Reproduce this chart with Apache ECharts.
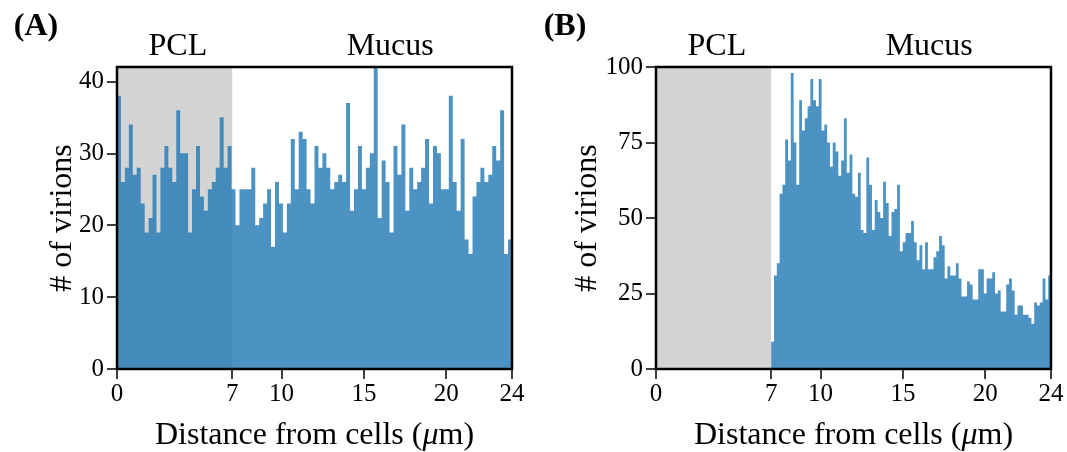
<!DOCTYPE html>
<html>
<head>
<meta charset="utf-8">
<script src="https://cdn.jsdelivr.net/npm/echarts@6/dist/echarts.min.js"></script>
<style>
html,body{margin:0;padding:0;background:#fff;}
#chart{width:1067px;height:452px;}
</style>
</head>
<body>
<div id="chart"></div>
<script>
// ---- Data ----
const xTicks = [0, 7, 10, 15, 20, 24];
const yTicksA = [0, 10, 20, 30, 40];
const yTicksB = [0, 25, 50, 75, 100];
const pclRange = [0, 7];
const binStartA = 0, binWidthA = 0.24;
const binStartB = 7, binWidthB = 0.17;
const countsA = [
  38,26,28,34,27,28,23,19,21,27,19,28,31,28,26,36,30,30,19,25,
  31,24,22,25,26,28,35,28,31,25,20,25,25,25,28,20,21,23,25,17,
  26,23,19,23,32,25,33,32,25,23,31,28,30,28,25,26,27,26,37,22,
  25,31,25,28,30,42,21,29,26,19,31,27,34,22,28,25,26,28,32,23,
  31,30,25,25,38,26,22,32,18,16,24,26,28,26,27,31,29,36,16,18
];
const countsB = [
  9,31,35,58,61,76,69,98,75,61,89,79,83,87,96,89,87,96,79,81,
  75,67,75,72,64,69,83,65,71,58,57,65,46,45,70,61,46,56,52,50,
  62,55,44,52,53,61,39,42,45,45,49,42,36,41,33,42,33,33,37,39,
  44,41,30,34,31,31,35,30,24,24,29,28,23,23,33,33,25,30,30,32,
  25,26,19,19,28,30,26,18,21,21,18,18,17,15,22,21,22,30,23,31
];
const panelLabels = ['(A)', '(B)'];
const regionLabels = ['PCL', 'Mucus'];
const yName = '# of virions';

// ---- Build ----
function stepPoints(start, width, counts) {
  const pts = counts.map((c, i) => [+(start + i * width).toFixed(4), c]);
  pts.push([+(start + counts.length * width).toFixed(4), counts[counts.length - 1]]);
  return pts;
}

const FONT = 'Liberation Serif';
const barFill = 'rgba(31,119,180,0.8)';
const grids = [
  {left: 117, top: 67, width: 395, height: 302},
  {left: 656, top: 67, width: 395, height: 302}
];

function xAxis(idx) {
  return {
    type: 'value', gridIndex: idx, min: 0, max: 24,
    splitLine: {show: false},
    axisLine: {show: true, lineStyle: {color: '#000', width: 2}},
    axisTick: {show: true, inside: false, length: 10, lineStyle: {color: '#000', width: 1.5}, customValues: xTicks},
    axisLabel: {color: '#000', fontFamily: FONT, fontSize: 25, margin: 13, customValues: xTicks},
    name: '{t|Distance from cells (}{i|\u03bc}{t|m)}',
    nameLocation: 'middle', nameGap: 51, nameMoveOverlap: false,
    nameTextStyle: {rich: {
      t: {fontFamily: FONT, fontSize: 32, color: '#000'},
      i: {fontFamily: FONT, fontSize: 32, fontStyle: 'italic', color: '#000'}
    }},
    z: 10
  };
}
function yAxis(idx, max, ticks, gap) {
  return {
    type: 'value', gridIndex: idx, min: 0, max: max,
    splitLine: {show: false},
    axisLine: {show: true, lineStyle: {color: '#000', width: 2}},
    axisTick: {show: true, inside: false, length: 10, lineStyle: {color: '#000', width: 1.5}, customValues: ticks},
    axisLabel: {color: '#000', fontFamily: FONT, fontSize: 25, margin: 13, customValues: ticks},
    name: yName, nameLocation: 'middle', nameGap: gap, nameMoveOverlap: false,
    nameTextStyle: {fontFamily: FONT, fontSize: 32, color: '#000'},
    z: 10
  };
}

function pclSeries(idx) {
  return {
    type: 'line', xAxisIndex: idx, yAxisIndex: idx, z: 1, silent: true,
    data: [[pclRange[0], 0], [pclRange[1], 0]],
    symbol: 'none', lineStyle: {opacity: 0},
    markArea: {silent: true, itemStyle: {color: '#d4d4d4', opacity: 1},
      data: [[{xAxis: pclRange[0]}, {xAxis: pclRange[1]}]]}
  };
}
function histSeries(idx, start, width, counts) {
  return {
    type: 'line', xAxisIndex: idx, yAxisIndex: idx, z: 3, silent: true,
    step: 'end', symbol: 'none',
    data: stepPoints(start, width, counts),
    lineStyle: {width: 0, opacity: 0},
    areaStyle: {color: barFill, opacity: 1, origin: 'start'},
    animation: false
  };
}

const option = {
  animation: false,
  backgroundColor: '#fff',
  grid: grids.map(g => Object.assign({show: true, borderColor: '#000', borderWidth: 2.5,
    backgroundColor: 'transparent', z: 5, containLabel: false, outerBoundsMode: 'none'}, g)),
  xAxis: [xAxis(0), xAxis(1)],
  yAxis: [yAxis(0, 42, yTicksA, 38), yAxis(1, 100, yTicksB, 52)],
  series: [
    pclSeries(0), histSeries(0, binStartA, binWidthA, countsA),
    pclSeries(1), histSeries(1, binStartB, binWidthB, countsB)
  ]
};

const chart = echarts.init(document.getElementById('chart'), null, {renderer: 'canvas'});
chart.setOption(option);

// region/panel labels placed via axis coordinates
function addLabels() {
  const g = [];
  const lab = (s, px, py, size, weight) => ({
    type: 'text', x: px, y: py, silent: true,
    style: {text: s, fontFamily: FONT, fontSize: size, fontWeight: weight || 'normal', fill: '#000',
      align: 'center', verticalAlign: 'middle'}
  });
  [0, 1].forEach(i => {
    const p0 = chart.convertToPixel({xAxisIndex: i}, 3.7);
    const p1 = chart.convertToPixel({xAxisIndex: i}, 16.6);
    g.push(lab(regionLabels[0], p0, 47, 32));
    g.push(lab(regionLabels[1], p1, 47, 32));
  });
  g.push(lab(panelLabels[0], 36, 27, 32, 'bold'));
  g.push(lab(panelLabels[1], 565, 27, 32, 'bold'));
  chart.setOption({graphic: g});
}
addLabels();
</script>
</body>
</html>
